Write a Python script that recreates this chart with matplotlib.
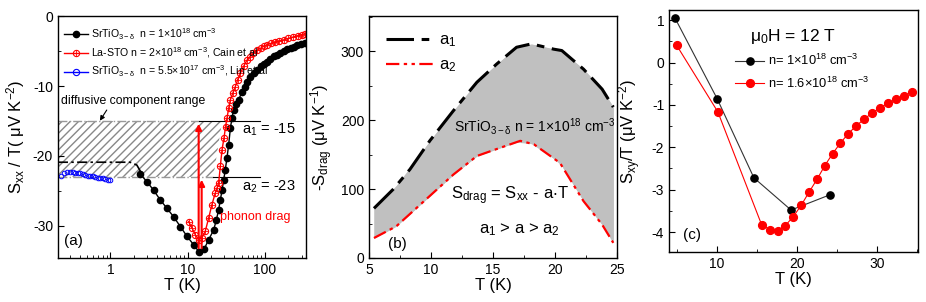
import numpy as np
import matplotlib
matplotlib.use('Agg')
import matplotlib.pyplot as plt
from matplotlib.ticker import MultipleLocator, LogLocator, NullFormatter
from matplotlib.lines import Line2D

plt.rcParams['font.family'] = ['Liberation Sans', 'DejaVu Sans']
plt.rcParams['mathtext.fontset'] = 'custom'
plt.rcParams['mathtext.rm'] = 'Liberation Sans'
plt.rcParams['mathtext.it'] = 'Liberation Sans:italic'
plt.rcParams['mathtext.default'] = 'regular'
plt.rcParams['axes.unicode_minus'] = False

## panel (a) data
T_sto = [2.44, 2.98, 3.63, 4.43, 5.41, 6.59, 8.05, 9.82, 11.96, 14.2, 16.4, 18.7,
         21.7, 23.5, 25.2, 26.5, 27.9, 29.3, 30.7, 32.3, 33.9, 35.8, 37.5, 39.4,
         42.5, 45.7, 50.6, 55.8, 58.6, 65, 72, 79, 88, 97, 106, 118, 132, 145,
         158, 175, 195, 215, 235, 260, 290, 333]
S_sto = [-22.6, -23.7, -24.9, -26.3, -27.5, -28.7, -30.1, -31.5, -32.7, -33.8, -33.3, -32.0,
         -30.6, -29.2, -27.7, -26.3, -24.9, -23.4, -22.0, -20.3, -18.5, -16.0, -14.6, -13.4,
         -12.6, -12.0, -10.8, -10.1, -9.4, -8.7, -8.1, -7.7, -7.1, -6.8, -6.5, -6.1, -5.7, -5.5,
         -5.3, -5.0, -4.7, -4.5, -4.4, -4.2, -4.0, -3.9]

T_la = [10.3, 11.4, 12.6, 13.9, 15.3, 16.9, 18.7, 20.6, 22.8, 24.0, 25.2, 26.5, 27.9,
        29.5, 31.0, 32.3, 34.0, 35.7, 38.5, 41.4, 44.5, 48.0, 53, 58.6, 64, 71, 79.1,
        88, 97, 106.6, 120, 135, 152, 174.5, 200, 230, 265, 300, 333]
S_la = [-29.4, -30.3, -31.3, -32.0, -31.7, -30.8, -28.9, -27.0, -25.3, -24.6, -23.9, -21.5, -19.1,
        -17.5, -15.8, -14.6, -13.2, -12.0, -11.0, -10.1, -9.1, -8.2, -7.2, -6.3, -5.8, -5.3, -4.9,
        -4.6, -4.3, -4.1, -3.9, -3.7, -3.55, -3.4, -3.2, -3.0, -2.8, -2.65, -2.5]

T_lin = [0.232, 0.25, 0.275, 0.30, 0.325, 0.35, 0.38, 0.41, 0.44, 0.475, 0.51, 0.55,
         0.595, 0.64, 0.69, 0.74, 0.80, 0.86, 0.93, 1.0]
S_lin = [-22.8, -22.5, -22.3, -22.3, -22.3, -22.4, -22.4, -22.5, -22.6, -22.7, -22.8, -22.9,
         -22.9, -23.0, -23.1, -23.2, -23.2, -23.3, -23.4, -23.5]

T_dashfit = [0.21, 1.8, 2.2, 2.45]
S_dashfit = [-20.9, -20.9, -21.3, -22.2]

a1_val = -15
a2_val = -23

## panel (b) data
T_a1 = [5.4, 6.94, 8.3, 9.9, 11.8, 13.7, 15.3, 16.9, 18.1, 19.9, 20.55, 22.3, 23.8, 24.7]
S_a1 = [72, 99.5, 128.6, 170, 213.6, 255, 281.5, 305.8, 310.7, 303, 301, 274, 245, 219]
T_a2 = [5.4, 7.2, 9.9, 11.8, 13.7, 14.8, 16.4, 17.2, 18.3, 20.4, 22.3, 23.8, 24.7]
S_a2 = [29, 46, 90, 121, 148, 155, 165, 170, 165, 138, 82.5, 48.5, 22]

## panel (c) data
T_n1 = [4.73, 10.0, 14.6, 19.24, 24.1]
S_n1 = [1.055, -0.85, -2.72, -3.48, -3.12]
T_n16 = [4.94, 10.1, 15.57, 16.58, 17.55, 18.5, 19.5, 20.5, 21.48, 22.5, 23.46, 24.43,
         25.4, 26.37, 27.4, 28.4, 29.37, 30.34, 31.35, 32.3, 33.33, 34.35]
S_n16 = [0.41, -1.165, -3.83, -3.94, -3.97, -3.85, -3.64, -3.37, -3.06, -2.75, -2.43, -2.15,
         -1.90, -1.68, -1.49, -1.33, -1.19, -1.07, -0.96, -0.87, -0.78, -0.70]

fig = plt.figure(figsize=(9.26, 3.02), dpi=100)
axa = fig.add_axes([0.0626, 0.1457, 0.2678, 0.801])
axb = fig.add_axes([0.3985, 0.1457, 0.2678, 0.801])
axc = fig.add_axes([0.7225, 0.1656, 0.2689, 0.8013])

for ax in (axa, axb, axc):
    ax.tick_params(which='both', direction='in', labelsize=10)
    ax.tick_params(which='major', length=4)
    ax.tick_params(which='minor', length=2.5)
    for s in ax.spines.values():
        s.set_linewidth(1.0)

# ---- (a)
axa.set_xscale('log')
axa.set_xlim(0.21, 340)
axa.set_ylim(-34.6, 0)
xl = axa.get_xlim()[0]
axa.fill_betweenx([a2_val, a1_val], [xl, xl], [21.5, 28], facecolor='none',
                  edgecolor='#888888', hatch='////', linewidth=0)
axa.plot([xl, 14], [a1_val, a1_val], color='#999999', ls='-.', lw=1)
axa.plot([14, 87], [a1_val, a1_val], color='k', lw=0.8)
axa.plot([xl, 21.6], [a2_val, a2_val], color='#999999', ls='-.', lw=1)
axa.plot([21.6, 87], [a2_val, a2_val], color='k', lw=0.8)
axa.plot(T_dashfit, S_dashfit, color='k', ls=(0, (6, 2, 1.5, 2)), lw=1.2)
axa.plot(T_sto, S_sto, color='k', lw=1, marker='o', ms=4.5)
axa.plot(T_la, S_la, color='red', lw=1, marker='o', ms=4.5, mfc='none', mew=0.8)
axa.plot(T_la, S_la, color='red', lw=0, marker='+', ms=4.5, mew=0.6)
axa.plot(T_lin, S_lin, color='blue', lw=0, marker='o', ms=3.3, mfc='none', mew=0.7)

axa.annotate('', xy=(13.9, a1_val), xytext=(13.9, -33.6),
             arrowprops=dict(arrowstyle='-|>', color='red', lw=1.5, mutation_scale=9))
axa.annotate('', xy=(15.2, a2_val), xytext=(15.2, -33.6),
             arrowprops=dict(arrowstyle='-|>', color='red', lw=1.5, mutation_scale=9))
axa.text(50, -16.3, r'a$_1$ = -15', fontsize=10.5, va='center')
axa.text(50, -24.4, r'a$_2$ = -23', fontsize=10.5, va='center')
axa.text(26.5, -28.8, 'phonon drag', fontsize=9, color='red', va='center')
axa.text(0.23, -12.1, 'diffusive component range', fontsize=8.8, va='center')
axa.annotate('', xy=(0.70, -15.3), xytext=(0.94, -13.1),
             arrowprops=dict(arrowstyle='-|>', color='k', lw=0.8, mutation_scale=7))
axa.text(0.25, -32.1, '(a)', fontsize=11, va='center')

h1 = Line2D([], [], color='k', lw=1, marker='o', ms=4.5)
h2 = (Line2D([], [], color='red', lw=1, marker='o', ms=4.5, mfc='none', mew=0.8),
      Line2D([], [], color='red', lw=0, marker='+', ms=4.5, mew=0.6))
h3 = Line2D([], [], color='blue', lw=1, marker='o', ms=4.5, mfc='none', mew=0.8)
axa.legend([h1, h2, h3],
           [r'SrTiO$_{3-\delta}$  n = 1$\times$10$^{18}$ cm$^{-3}$',
            r'La-STO n = 2$\times$10$^{18}$ cm$^{-3}$, Cain et al',
            r'SrTiO$_{3-\delta}$  n = 5.5$\times$10$^{17}$ cm$^{-3}$, Lin et al'],
           loc='upper left', frameon=False, fontsize=7.6, handlelength=2.2,
           handletextpad=0.3, labelspacing=0.35, borderaxespad=0.2,
           bbox_to_anchor=(0.0, 0.985))
axa.set_xticks([1, 10, 100])
axa.set_xticklabels(['1', '10', '100'])
axa.xaxis.set_minor_locator(LogLocator(base=10, subs=np.arange(2, 10), numticks=20))
axa.xaxis.set_minor_formatter(NullFormatter())
axa.yaxis.set_major_locator(MultipleLocator(10))
axa.yaxis.set_minor_locator(MultipleLocator(5))
axa.set_xlabel('T (K)', fontsize=12, labelpad=1)
axa.set_ylabel('S$_{xx}$ / T( μV K$^{-2}$)', fontsize=12, labelpad=4)

# ---- (b)
axb.set_xlim(5, 25)
axb.set_ylim(0, 351)
axb.fill_between(T_a1, S_a1, np.interp(T_a1, T_a2, S_a2), color='#c0c0c0', lw=0)
axb.fill_between(T_a2, np.interp(T_a2, T_a1, S_a1), S_a2, color='#c0c0c0', lw=0)
axb.plot(T_a1, S_a1, color='k', lw=2.2, dashes=(9, 2.5, 2.5, 2.5), label=r'a$_1$')
axb.plot(T_a2, S_a2, color='red', lw=1.6, dashes=(6, 2, 1.5, 2, 1.5, 2), label=r'a$_2$')
axb.legend(loc='upper left', frameon=False, fontsize=12, handlelength=2.9,
           handletextpad=0.3, labelspacing=0.5, borderaxespad=0.6)
axb.text(18.4, 191, r'SrTiO$_{3-\delta}$ n = 1$\times$10$^{18}$ cm$^{-3}$', fontsize=10, ha='center', va='center')
axb.text(16.4, 91, r'S$_{drag}$ = S$_{xx}$ - a$\cdot$T', fontsize=12, ha='center', va='center')
axb.text(17.1, 41, r'a$_1$ > a > a$_2$', fontsize=12, ha='center', va='center')
axb.text(6.5, 20, '(b)', fontsize=11, va='center')
axb.xaxis.set_major_locator(MultipleLocator(5))
axb.xaxis.set_minor_locator(MultipleLocator(2.5))
axb.yaxis.set_major_locator(MultipleLocator(100))
axb.yaxis.set_minor_locator(MultipleLocator(50))
axb.set_xlabel('T (K)', fontsize=12, labelpad=1)
axb.set_ylabel('-S$_{drag}$ (μV K$^{-1}$)', fontsize=12, labelpad=4)

# ---- (c)
axc.set_xlim(4, 35.1)
axc.set_ylim(-4.47, 1.24)
axc.plot(T_n1, S_n1, color='#333333', lw=0.8, marker='o', ms=5.2, mfc='k', mec='k',
         label=r'n= 1$\times$10$^{18}$ cm$^{-3}$')
axc.plot(T_n16, S_n16, color='red', lw=0.8, marker='o', ms=5.6, mfc='red', mec='red',
         label=r'n= 1.6$\times$10$^{18}$ cm$^{-3}$')
axc.legend(loc='upper left', frameon=False, fontsize=9.3, handlelength=2.2,
           handletextpad=0.3, labelspacing=0.55, bbox_to_anchor=(0.22, 0.87))
axc.text(0.325, 0.89, r'$\mu_0$H = 12 T', transform=axc.transAxes, fontsize=12.5, ha='left', va='center')
axc.text(0.056, 0.07, '(c)', transform=axc.transAxes, fontsize=11, va='center')
axc.xaxis.set_major_locator(MultipleLocator(10))
axc.xaxis.set_minor_locator(MultipleLocator(5))
axc.yaxis.set_major_locator(MultipleLocator(1))
axc.yaxis.set_minor_locator(MultipleLocator(0.5))
axc.set_xlabel('T (K)', fontsize=12, labelpad=1)
axc.set_ylabel('S$_{xy}$/T (μV K$^{-2}$)', fontsize=12, labelpad=6)

fig.savefig('out.png', dpi=100)
